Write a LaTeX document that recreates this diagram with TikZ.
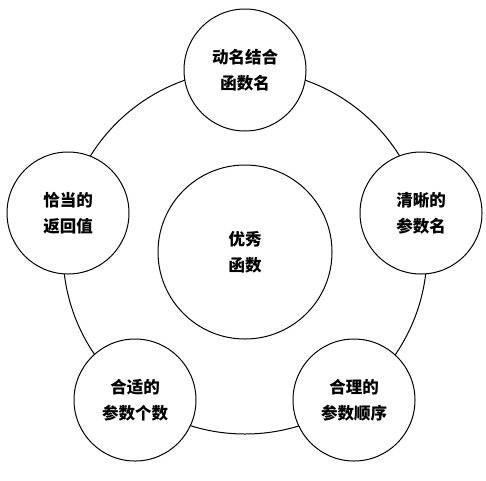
\documentclass[tikz,border=0pt]{standalone}
\usepackage{fontspec}
\newfontfamily\cjk{Noto Sans CJK SC}
\begin{document}
\begin{tikzpicture}[x=1pt,y=-1pt,
  ring/.style={draw=black,line width=1pt},
  bubble/.style={circle,draw=black,line width=1pt,fill=white,minimum size=122pt,inner sep=0pt,
    align=center,font=\cjk\bfseries\fontsize{16.5}{26}\selectfont},
  hub/.style={bubble,minimum size=174pt}]
\useasboundingbox (0,0) rectangle (486,480);
\fill[white] (0,0) rectangle (486,480);
\coordinate (o) at (245,252);
\draw[ring] (o) circle[radius=182];
\node[hub] (center) at (o) {优秀\\函数};
\node[bubble] (top) at (245,70) {动名结合\\函数名};
\node[bubble] (left) at (68,213) {恰当的\\返回值};
\node[bubble] (right) at (421,213) {清晰的\\参数名};
\node[bubble] (bl) at (135,400) {合适的\\参数个数};
\node[bubble] (br) at (354,400) {合理的\\参数顺序};
\end{tikzpicture}
\end{document}
